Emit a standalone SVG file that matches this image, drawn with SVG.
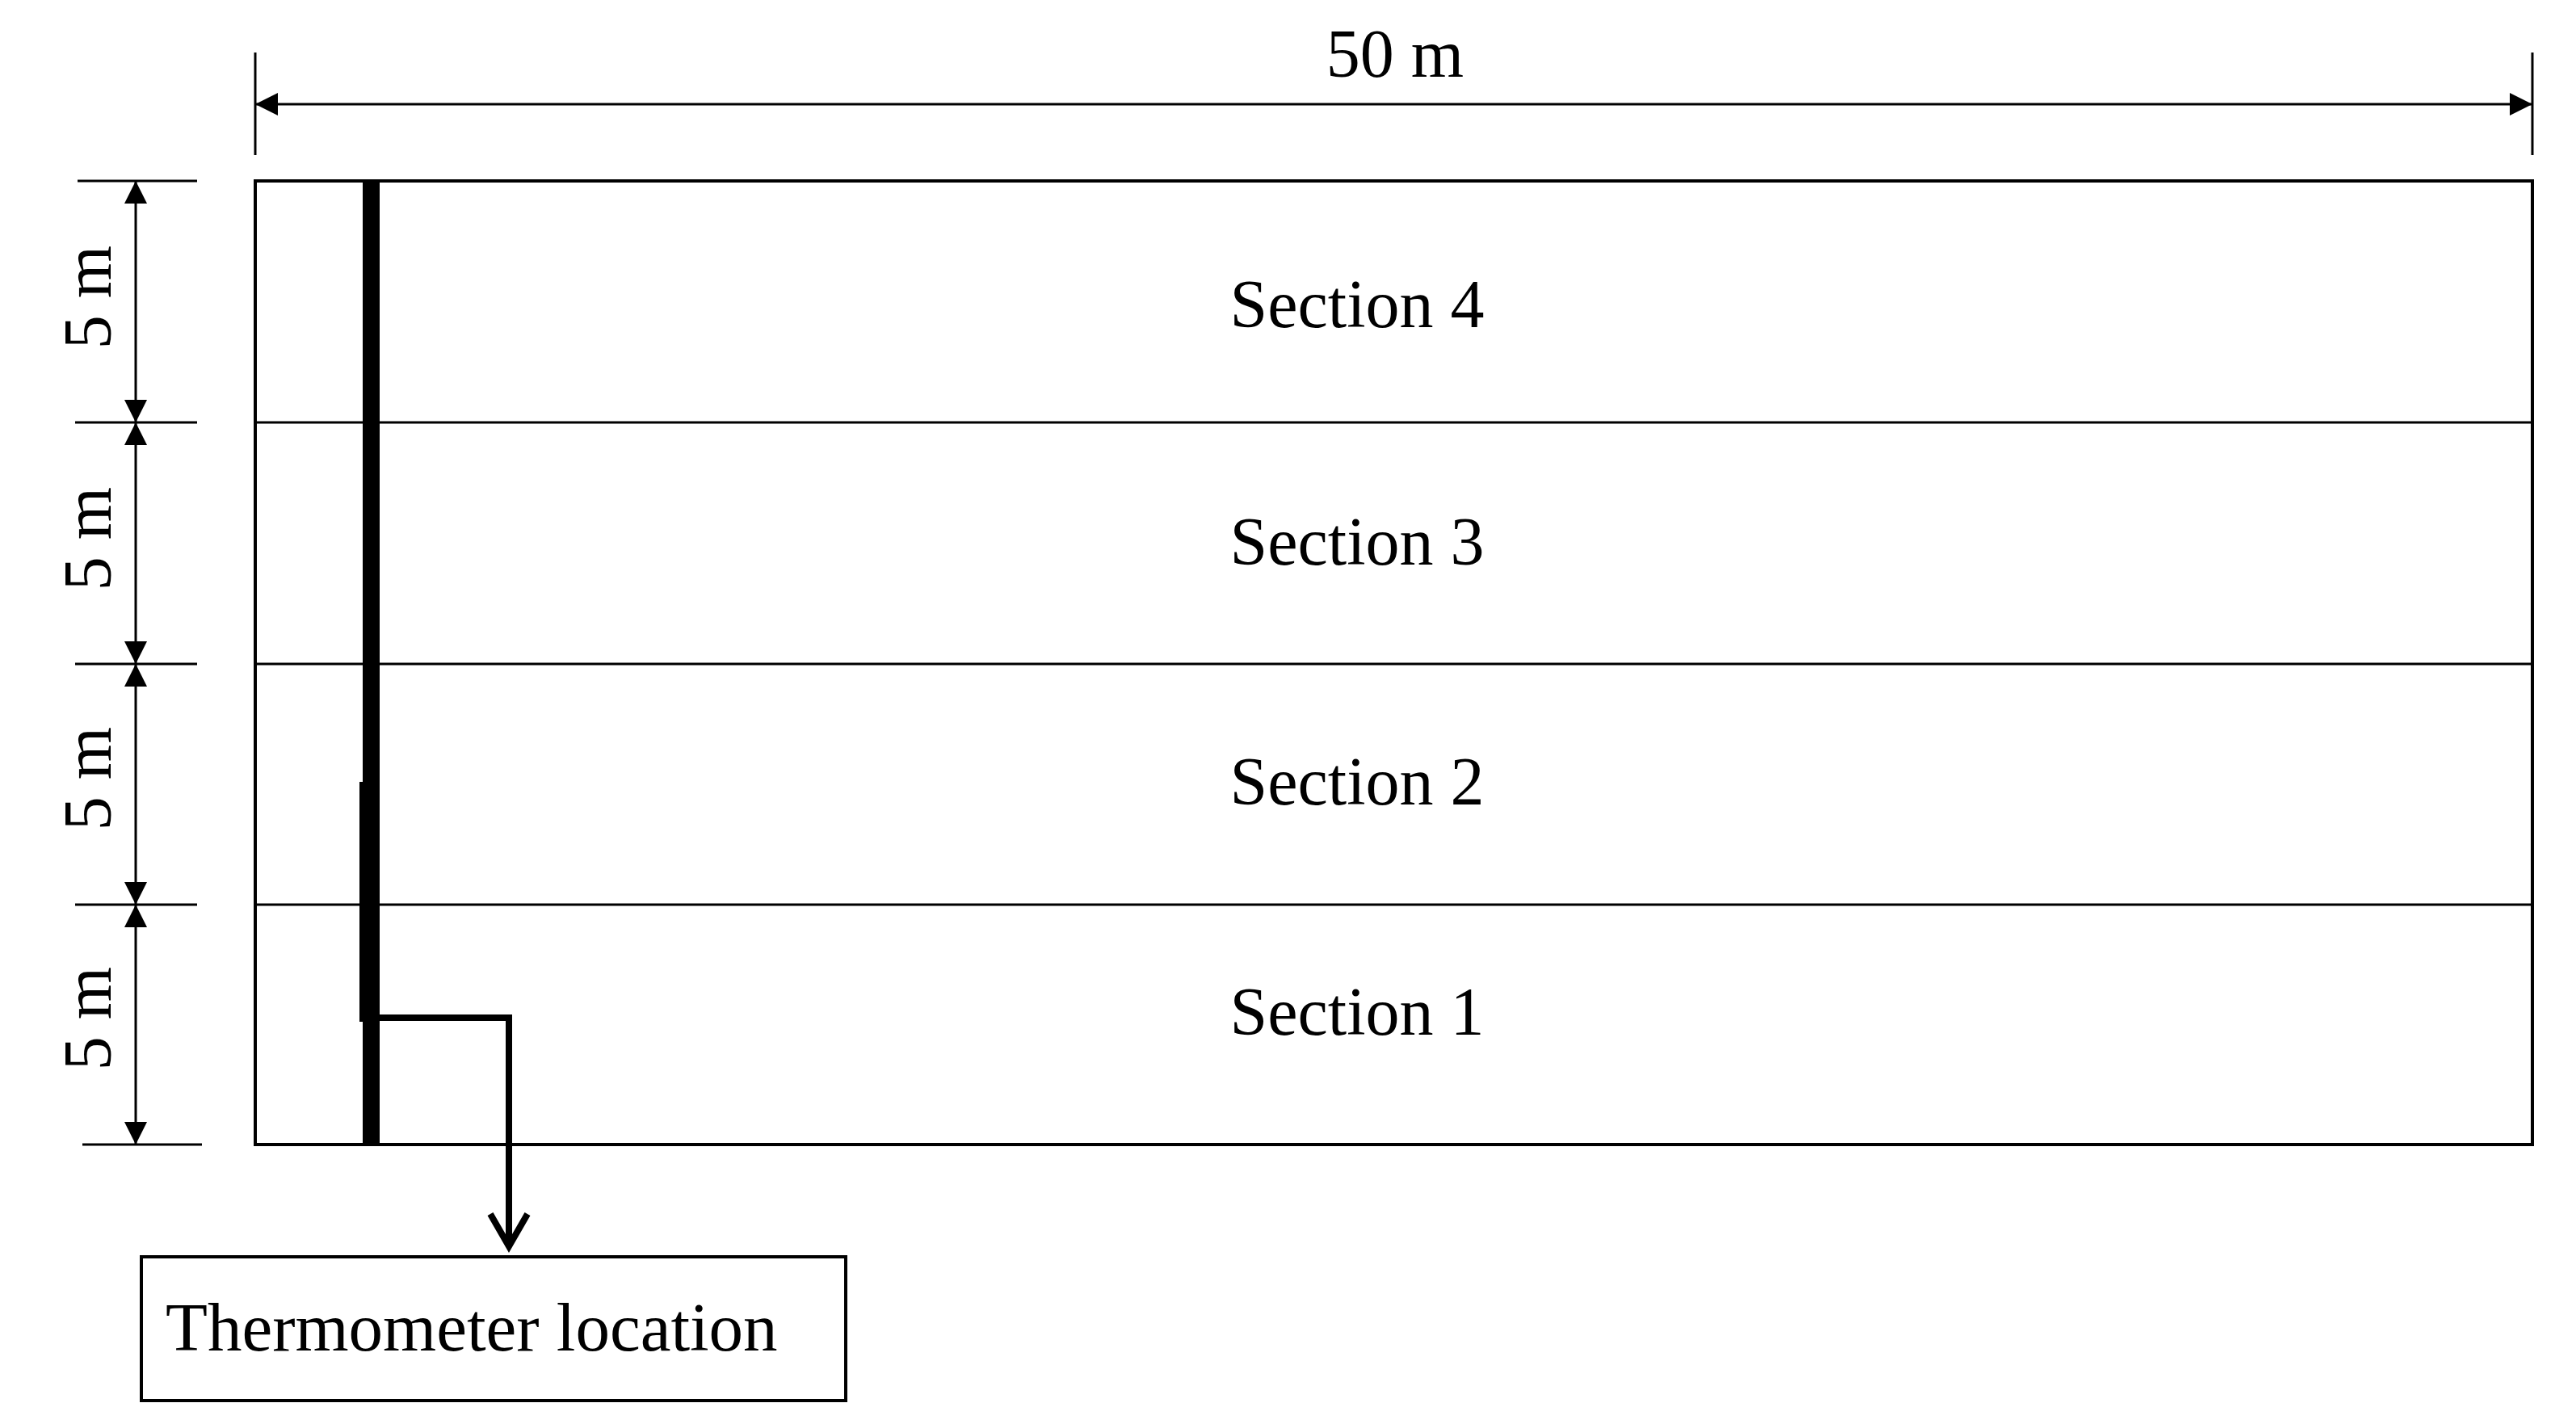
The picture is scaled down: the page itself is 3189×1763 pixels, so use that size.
<svg xmlns="http://www.w3.org/2000/svg" width="3189" height="1763" viewBox="0 0 3189 1763">
<style>
  .t { font-family: "Liberation Serif", "Times New Roman", serif; font-size: 84px; fill: #000; }
  .dim { stroke: #000; stroke-width: 3; fill: none; }
  .tick { stroke: #000; stroke-width: 3; }
  .div { stroke: #000; stroke-width: 3; }
</style>
<defs>
  <marker id="ah" viewBox="0 0 28 28" refX="28" refY="14" markerWidth="28" markerHeight="28" markerUnits="userSpaceOnUse" orient="auto-start-reverse">
    <path d="M0,0 L28,14 L0,28 Z" fill="#000"/>
  </marker>
</defs>
<rect width="3189" height="1763" fill="#fff"/>

<g id="field">
  <rect x="316" y="224" width="2819" height="1193" fill="none" stroke="#000" stroke-width="4"/>
  <line class="div" x1="316" y1="523" x2="3135" y2="523"/>
  <line class="div" x1="316" y1="822" x2="3135" y2="822"/>
  <line class="div" x1="316" y1="1120" x2="3135" y2="1120"/>
</g>

<g id="section4"><text class="t" x="1680" y="405" text-anchor="middle">Section 4</text></g>
<g id="section3"><text class="t" x="1680" y="699" text-anchor="middle">Section 3</text></g>
<g id="section2"><text class="t" x="1680" y="996" text-anchor="middle">Section 2</text></g>
<g id="section1"><text class="t" x="1680" y="1281" text-anchor="middle">Section 1</text></g>

<g id="thermometer-line">
  <rect x="449" y="224" width="21" height="1193" fill="#000"/>
  <rect x="445" y="968" width="6" height="297" fill="#000"/>
</g>

<g id="thermometer-box">
  <rect x="175" y="1556" width="872" height="178" fill="none" stroke="#000" stroke-width="4"/>
  <text class="t" x="205" y="1672" style="font-size:85px">Thermometer location</text>
</g>

<g id="dimensions">
  <line class="tick" x1="316" y1="65" x2="316" y2="192"/>
  <line class="tick" x1="3135" y1="65" x2="3135" y2="192"/>
  <line class="dim" x1="316" y1="129" x2="3135" y2="129" marker-start="url(#ah)" marker-end="url(#ah)"/>
  <text class="t" x="1727" y="95" text-anchor="middle">50 m</text>

  <line class="tick" x1="96" y1="224" x2="244" y2="224"/>
  <line class="tick" x1="93" y1="523" x2="244" y2="523"/>
  <line class="tick" x1="93" y1="822" x2="244" y2="822"/>
  <line class="tick" x1="93" y1="1120" x2="244" y2="1120"/>
  <line class="tick" x1="102" y1="1417" x2="250" y2="1417"/>

  <line class="dim" x1="168" y1="224" x2="168" y2="523" marker-start="url(#ah)" marker-end="url(#ah)"/>
  <line class="dim" x1="168" y1="523" x2="168" y2="822" marker-start="url(#ah)" marker-end="url(#ah)"/>
  <line class="dim" x1="168" y1="822" x2="168" y2="1120" marker-start="url(#ah)" marker-end="url(#ah)"/>
  <line class="dim" x1="168" y1="1120" x2="168" y2="1417" marker-start="url(#ah)" marker-end="url(#ah)"/>

  <text class="t" x="137" y="368" text-anchor="middle" transform="rotate(-90 137 368)">5 m</text>
  <text class="t" x="137" y="667" text-anchor="middle" transform="rotate(-90 137 667)">5 m</text>
  <text class="t" x="137" y="964" text-anchor="middle" transform="rotate(-90 137 964)">5 m</text>
  <text class="t" x="137" y="1261" text-anchor="middle" transform="rotate(-90 137 1261)">5 m</text>
</g>

<g id="connectors">
  <path d="M470,1260 H630 V1542" fill="none" stroke="#000" stroke-width="8"/>
  <polyline points="607,1503 630,1543 653,1503" fill="none" stroke="#000" stroke-width="8" stroke-linejoin="miter"/>
</g>
</svg>
